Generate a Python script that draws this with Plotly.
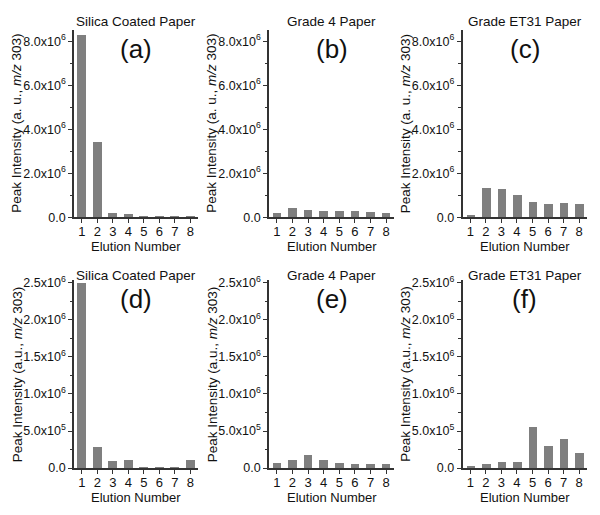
import plotly.graph_objects as go

elution = [1, 2, 3, 4, 5, 6, 7, 8]

silica_top = [8.25e6, 3.40e6, 0.15e6, 0.12e6, 0.01e6, 0.01e6, 0.01e6, 0.01e6]
grade4_top = [0.18e6, 0.38e6, 0.29e6, 0.27e6, 0.27e6, 0.25e6, 0.20e6, 0.15e6]
et31_top = [0.10e6, 1.30e6, 1.27e6, 1.00e6, 0.69e6, 0.60e6, 0.62e6, 0.60e6]

silica_bot = [2.49e6, 0.285e6, 0.09e6, 0.105e6, 0.005e6, 0.005e6, 0.005e6, 0.105e6]
grade4_bot = [0.061e6, 0.105e6, 0.175e6, 0.10e6, 0.06e6, 0.052e6, 0.044e6, 0.044e6]
et31_bot = [0.03e6, 0.052e6, 0.079e6, 0.079e6, 0.555e6, 0.29e6, 0.39e6, 0.205e6]

paper_titles = ["Silica Coated Paper", "Grade 4 Paper", "Grade ET31 Paper"]
panel_labels = ["(a)", "(b)", "(c)", "(d)", "(e)", "(f)"]

top_tickvals = [0, 2e6, 4e6, 6e6, 8e6]
top_ticktext = ["0.0", "2.0x10<sup>6</sup>", "4.0x10<sup>6</sup>", "6.0x10<sup>6</sup>", "8.0x10<sup>6</sup>"]
top_minor = [1e6, 3e6, 5e6, 7e6]
bot_tickvals = [0, 0.5e6, 1.0e6, 1.5e6, 2.0e6, 2.5e6]
bot_ticktext = ["0.0", "5.0x10<sup>5</sup>", "1.0x10<sup>6</sup>", "1.5x10<sup>6</sup>",
                "2.0x10<sup>6</sup>", "2.5x10<sup>6</sup>"]
bot_minor = [0.25e6, 0.75e6, 1.25e6, 1.75e6, 2.25e6]

ytitle_top = "Peak Intensity (a. u., <i>m/z</i> 303)"
ytitle_bot = "Peak Intensity (a.u., <i>m/z</i> 303)"
xtitle = "Elution Number"

W, H = 600, 515
FONT = "Arial, Liberation Sans, sans-serif"
BAR = "#7f7f7f"
AX = "#333333"

cols = [(74, 198), (269, 394), (462.5, 587)]
rows = [(24, 216), (281, 474)]

data = [[silica_top, grade4_top, et31_top], [silica_bot, grade4_bot, et31_bot]]

fig = go.Figure()
annotations = []
layout = {}

def px(x):
    return x / W

def py(y):
    return 1 - y / H

title_y = [15, 276]
label_y = [43, 300]

k = 0
for r in range(2):
    for c in range(3):
        k += 1
        xa = "x" if k == 1 else f"x{k}"
        ya = "y" if k == 1 else f"y{k}"
        fig.add_trace(go.Bar(x=elution, y=data[r][c], width=0.55, marker_color=BAR,
                             marker_line_width=0, xaxis=xa, yaxis=ya, showlegend=False,
                             hoverinfo="skip"))
        x0, x1 = cols[c]
        yt, yb = rows[r]
        xkey = "xaxis" if k == 1 else f"xaxis{k}"
        ykey = "yaxis" if k == 1 else f"yaxis{k}"
        layout[xkey] = dict(domain=[px(x0), px(x1)], anchor=ya, range=[0.5, 8.5],
                            tickmode="array", tickvals=elution, ticktext=[str(e) for e in elution],
                            ticks="outside", ticklen=4, tickwidth=1.2, tickcolor=AX,
                            ticklabelstandoff=-2,
                            showline=True, linecolor=AX, linewidth=1.5,
                            showgrid=False, zeroline=False,
                            tickfont=dict(family=FONT, size=13, color="#111"))
        if r == 0:
            tv, tt, mv, yr, yt_text = top_tickvals, top_ticktext, top_minor, [0, 8.5e6], ytitle_top
        else:
            tv, tt, mv, yr, yt_text = bot_tickvals, bot_ticktext, bot_minor, [0, 2.53e6], ytitle_bot
        layout[ykey] = dict(domain=[py(yb), py(yt)], anchor=xa, range=yr,
                            tickmode="array", tickvals=tv, ticktext=tt,
                            ticks="outside", ticklen=4, tickwidth=1.2, tickcolor=AX,
                            minor=dict(tickmode="array", tickvals=mv, ticks="outside",
                                       ticklen=2.5, tickwidth=1, tickcolor=AX),
                            showline=True, linecolor=AX, linewidth=1.5,
                            showgrid=False, zeroline=False,
                            tickfont=dict(family=FONT, size=12.5, color="#111"))
        cx = (x0 + x1) / 2
        annotations.append(dict(x=px(cx), y=py(title_y[r]), xref="paper", yref="paper",
                                text=paper_titles[c], showarrow=False, xanchor="center",
                                yanchor="middle", font=dict(family=FONT, size=13.5, color="#111")))
        annotations.append(dict(x=px(cx), y=py(label_y[r]), xref="paper", yref="paper",
                                text=panel_labels[k - 1], showarrow=False, xanchor="center",
                                yanchor="middle", font=dict(family=FONT, size=26, color="#111")))
        annotations.append(dict(x=px(cx), y=py(yb + 30), xref="paper", yref="paper",
                                text=xtitle, showarrow=False, xanchor="center",
                                yanchor="middle", font=dict(family=FONT, size=13, color="#111")))
        annotations.append(dict(x=px(x0 - 57), y=py((yt + yb) / 2), xref="paper", yref="paper",
                                text=yt_text, showarrow=False, xanchor="center", textangle=-90,
                                yanchor="middle", font=dict(family=FONT, size=13.5, color="#111")))

fig.update_layout(**layout)
fig.update_layout(width=W, height=H, margin=dict(l=0, r=0, t=0, b=0),
                  paper_bgcolor="white", plot_bgcolor="white",
                  annotations=annotations, bargap=0, hovermode=False)
fig.write_html("out.html", config={"displayModeBar": False},
               post_script="document.body.style.margin='0';document.body.style.overflow='hidden';")
